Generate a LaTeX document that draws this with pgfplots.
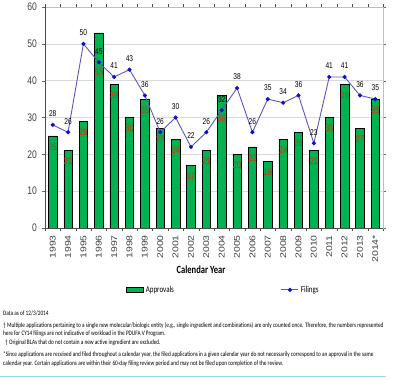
\documentclass[border=0pt]{standalone}
\usepackage{graphicx}
\usepackage{pgfplots}
\pgfplotsset{compat=1.18}
\usepackage{fontspec}
\setmainfont{Liberation Sans}
\newfontfamily\carl{Carlito}
\newcommand{\nar}[1]{\scalebox{0.78}[1]{#1}}
\newcommand{\lo}[1]{\scalebox{1}[0.8]{#1}}
\definecolor{barg}{RGB}{0,178,80}
\definecolor{lab}{RGB}{225,45,10}
\definecolor{lin}{RGB}{95,85,195}
\definecolor{mk}{RGB}{15,15,205}
\definecolor{cyn}{RGB}{150,215,235}
\pgfplotstableread{
x y s
0 25 -11
1 21 -11
2 29 -11
3 53 -39
4 39 -11
5 30 -11
6 35 -11
7 27 -11
8 24 -11
9 17 -11
10 21 -11
11 36 -23
12 20 -11
13 22 -11
14 18 -11
15 24 -11
16 26 -11
17 21 -11
18 30 -11
19 39 -11
20 27 -11
21 35 -11
}\approvals
\pgfplotstableread{
x y
0 28
1 26
2 50
3 45
4 41
5 43
6 36
7 26
8 30
9 22
10 26
11 32
12 38
13 26
14 35
15 34
16 36
17 23
18 41
19 41
20 36
21 35
}\filings
\begin{document}
\begin{tikzpicture}[x=1bp,y=1bp]
\useasboundingbox (0,0) rectangle (396,380);
\begin{axis}[
  at={(45bp,152bp)}, anchor=south west,
  scale only axis, width=338bp, height=221bp,
  xmin=-0.5, xmax=21.5, ymin=0, ymax=60,
  xtick={0,...,21},
  xticklabels={\lo{1993},\lo{1994},\lo{1995},\lo{1996},\lo{1997},\lo{1998},\lo{1999},\lo{2000},\lo{2001},\lo{2002},\lo{2003},\lo{2004},\lo{2005},\lo{2006},\lo{2007},\lo{2008},\lo{2009},\lo{2010},\lo{2011},\lo{2012},\lo{2013},\lo{2014*}},
  major x tick style={draw=none},
  minor xtick={-0.5,0.5,...,21.5},
  minor x tick style={black!70},
  minor tick length=3bp,
  xticklabel shift=3bp,
  x tick label style={rotate=90, anchor=east, font=\fontsize{10.5}{10}\selectfont, text=black!75, inner sep=1bp},
  ytick={0,10,...,60},
  yticklabel={\nar{\pgfmathprintnumber{\tick}}},
  y tick label style={font=\fontsize{11}{10}\selectfont, text=black!75, inner sep=1bp, xshift=-4bp},
  /pgf/number format/assume math mode=true,
  tick align=outside, major tick length=3bp,
  ytick style={black!60},
  ymajorgrids, grid style={black!15},
  axis line style={black!25},
  after end axis/.code={
    \draw[black!70] (rel axis cs:0,0)--(rel axis cs:0,1);
    \draw[black!70] (rel axis cs:0,0)--(rel axis cs:1,0);
  },
  legend style={at={(0.24,-0.28)}, anchor=west, draw=none, fill=none,
    legend columns=2, font=\carl\fontsize{9}{9}\selectfont,
    /tikz/every even column/.append style={column sep=105bp},
    legend cell align=left, inner sep=0pt},
  clip=false,
]
\addplot[ybar, bar width=0.55, fill=barg, draw=black, line width=0.5bp,
  visualization depends on={\thisrow{s} \as \labshift},
  nodes near coords={\nar{\pgfmathprintnumber{\pgfplotspointmeta}}},
  every node near coord/.append style={text=lab, font=\fontsize{9.5}{9}\selectfont, anchor=center, yshift=\labshift bp},
  area legend] table[x=x, y=y] {\approvals};
\addlegendentry{\nar{Approvals}}
\addplot[sharp plot, color=lin, line width=0.9bp, mark=*, mark size=1.6bp,
  mark options={fill=mk, draw=mk},
  nodes near coords={\nar{\pgfmathprintnumber{\pgfplotspointmeta}}},
  every node near coord/.append style={text=black, font=\fontsize{8.5}{8.5}\selectfont, anchor=center, yshift=11bp}]
  table[x=x, y=y] {\filings};
\addlegendentry{\nar{Filings}}
\end{axis}
\node[font=\carl\bfseries\fontsize{11}{11}\selectfont] at (201,110) {\nar{Calendar Year}};
\begin{scope}[every node/.style={anchor=west, inner sep=0pt, font=\carl\fontsize{6.8}{7}\selectfont}]
\node at (3,67) {\nar{Data as of 12/3/2014}};
\node at (3,54) {\nar{† Multiple applications pertaining to a single new molecular/biologic entity (e.g., single ingredient and combinations) are only counted once. Therefore, the numbers represented}};
\node at (3,46) {\nar{here for CY14 filings are not indicative of workload in the PDUFA V Program.}};
\node at (5,37) {\nar{† Original BLAs that do not contain a new active ingredient are excluded.}};
\node at (3,25) {\nar{*Since applications are received and filed throughout a calendar year, the filed applications in a given calendar year do not necessarily correspond to an approval in the same}};
\node at (3,16) {\nar{calendar year. Certain applications are within their 60-day filing review period and may not be filed upon completion of the review.}};
\end{scope}
\draw[cyn, line width=0.6bp] (0,4) -- (386,4);
\end{tikzpicture}
\end{document}
